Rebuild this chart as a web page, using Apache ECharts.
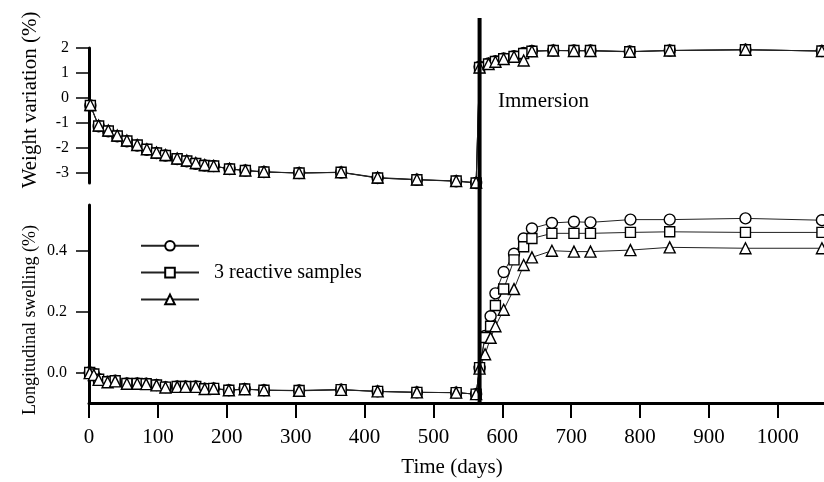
<!DOCTYPE html>
<html style="height: 100%">
  <head>
    <meta charset="utf-8" />
  </head>
  <body style="height: 100%; margin: 0">
    <div id="container" style="width: 824px; height: 482px"></div>

    <script
      type="text/javascript"
      src="https://cdn.jsdelivr.net/npm/echarts@6/dist/echarts.min.js"
    ></script>

    <script type="text/javascript">
      var dom = document.getElementById("container");
      var myChart = echarts.init(dom);

      var FONT = "Liberation Serif";

      var sampleNames = ["Sample 1", "Sample 2", "Sample 3"];
      var sampleSymbols = ["circle", "rect", "triangle"];
      var immersionDay = 567;

      // weight variation (%), top panel
      var weightDays = [
        2, 14, 28, 41, 55, 70, 84, 98, 111, 128, 142, 155, 168, 181, 204, 227,
        254, 305, 366, 419, 476, 533, 562, 567, 580, 590, 602, 617, 631, 643,
        674, 704, 728, 785, 843, 953, 1064,
      ];
      var weight1 = [
        -0.3, -1.13, -1.33, -1.53, -1.73, -1.9, -2.07, -2.2, -2.3, -2.44, -2.53,
        -2.63, -2.7, -2.72, -2.84, -2.9, -2.96, -3.0, -2.98, -3.2, -3.27, -3.33,
        -3.4, 1.25, 1.38, 1.47, 1.58, 1.67, 1.8, 1.88, 1.9, 1.9, 1.9, 1.86, 1.9,
        1.93, 1.88,
      ];
      var weight2 = [
        -0.3, -1.12, -1.32, -1.52, -1.72, -1.88, -2.05, -2.2, -2.3, -2.43, -2.52,
        -2.62, -2.7, -2.72, -2.84, -2.9, -2.96, -3.0, -2.97, -3.2, -3.27, -3.32,
        -3.4, 1.22, 1.36, 1.46, 1.57, 1.66, 1.78, 1.87, 1.9, 1.9, 1.9, 1.85, 1.9,
        1.93, 1.88,
      ];
      var weight3 = [
        -0.28, -1.1, -1.3, -1.5, -1.7, -1.88, -2.05, -2.18, -2.28, -2.42, -2.5,
        -2.6, -2.68, -2.72, -2.83, -2.9, -2.95, -3.0, -2.97, -3.18, -3.26, -3.32,
        -3.38, 1.22, 1.36, 1.45, 1.56, 1.65, 1.5, 1.87, 1.9, 1.88, 1.88, 1.85,
        1.9, 1.93, 1.88,
      ];

      // longitudinal swelling (%), bottom panel
      var swellDays = [
        1, 7, 14, 27, 38, 55, 70, 83, 98, 111, 128, 140, 155, 168, 181, 203, 226,
        254, 305, 366, 419, 476, 533, 562, 567, 575, 583, 590, 602, 617, 631,
        643, 672, 704, 728, 786, 843, 953, 1064,
      ];
      var swell1 = [
        0.0, -0.005, -0.022, -0.03, -0.027, -0.036, -0.036, -0.037, -0.041,
        -0.048, -0.046, -0.046, -0.046, -0.053, -0.052, -0.058, -0.054, -0.058,
        -0.059, -0.056, -0.062, -0.065, -0.066, -0.071, 0.015, 0.12, 0.185,
        0.26, 0.33, 0.39, 0.44, 0.473, 0.491, 0.495, 0.493, 0.502, 0.502, 0.506,
        0.5,
      ];
      var swell2 = [
        0.0, -0.005, -0.022, -0.03, -0.027, -0.036, -0.036, -0.037, -0.041,
        -0.048, -0.046, -0.046, -0.046, -0.053, -0.052, -0.058, -0.054, -0.058,
        -0.059, -0.056, -0.062, -0.065, -0.066, -0.071, 0.016, 0.115, 0.152,
        0.22, 0.274, 0.37, 0.413, 0.44, 0.457, 0.457, 0.457, 0.46, 0.462, 0.46,
        0.46,
      ];
      var swell3 = [
        -0.002, -0.008, -0.024, -0.032, -0.029, -0.037, -0.037, -0.038, -0.042,
        -0.049, -0.047, -0.047, -0.047, -0.054, -0.053, -0.058, -0.055, -0.058,
        -0.06, -0.057, -0.062, -0.065, -0.066, -0.071, 0.013, 0.06, 0.114,
        0.152, 0.206, 0.274, 0.353, 0.378, 0.4, 0.397, 0.397, 0.402, 0.411,
        0.408, 0.408,
      ];

      var xTicks = [0, 100, 200, 300, 400, 500, 600, 700, 800, 900, 1000];
      var weightTicks = [-3, -2, -1, 0, 1, 2];
      var swellTicks = [0, 0.2, 0.4];
      var swellMinorTicks = [0.1, 0.3, 0.5];

      function zip(xs, ys) {
        return xs.map(function (x, i) {
          return [x, ys[i]];
        });
      }

      function sampleSeries(name, symbol, days, vals, xi, yi) {
        return {
          name: name,
          type: "line",
          xAxisIndex: xi,
          yAxisIndex: yi,
          data: zip(days, vals),
          symbol: symbol,
          symbolSize: symbol === "rect" ? 10 : 11,
          showAllSymbol: true,
          lineStyle: { color: "#222", width: 1 },
          itemStyle: { color: "#fff", borderColor: "#000", borderWidth: 1.4 },
          emphasis: { disabled: true },
        };
      }

      var weightVals = [weight1, weight2, weight3];
      var swellVals = [swell1, swell2, swell3];
      var series = [];
      for (var i = 0; i < 3; i++) {
        series.push(
          sampleSeries(sampleNames[i], sampleSymbols[i], weightDays, weightVals[i], 0, 0)
        );
      }
      for (var j = 0; j < 3; j++) {
        series.push(
          sampleSeries(sampleNames[j], sampleSymbols[j], swellDays, swellVals[j], 1, 1)
        );
      }
      series.push({
        name: "immersion",
        type: "line",
        xAxisIndex: 2,
        yAxisIndex: 3,
        data: [
          [immersionDay, 0],
          [immersionDay, 1],
        ],
        symbol: "none",
        lineStyle: { color: "#000", width: 4 },
        z: 5,
      });

      var axisText = { color: "#000", fontFamily: FONT };

      var option = {
        animation: false,
        backgroundColor: "#fff",
        grid: [
          { left: 89, right: 0, top: 48, height: 135 },
          { left: 89, right: 0, top: 205, height: 198 },
          { left: 89, right: 0, top: 18, height: 385 },
        ],
        xAxis: [
          { gridIndex: 0, type: "value", min: 0, max: 1067, show: false },
          {
            gridIndex: 1,
            type: "value",
            min: 0,
            max: 1067,
            interval: 100,
            axisLine: { onZero: false, lineStyle: { color: "#000", width: 3 } },
            axisTick: {
              customValues: xTicks,
              length: 15,
              lineStyle: { color: "#000", width: 2 },
            },
            axisLabel: Object.assign(
              {
                customValues: xTicks,
                fontSize: 21,
                margin: 24,
                formatter: function (v) {
                  return String(v);
                },
              },
              axisText
            ),
            splitLine: { show: false },
          },
          { gridIndex: 2, type: "value", min: 0, max: 1067, show: false },
        ],
        yAxis: [
          {
            gridIndex: 0,
            type: "value",
            min: -3.4,
            max: 2,
            axisLine: { show: true, lineStyle: { color: "#000", width: 3 } },
            axisTick: {
              show: true,
              customValues: weightTicks,
              length: 13,
              lineStyle: { color: "#000", width: 1.5 },
            },
            axisLabel: Object.assign(
              { customValues: weightTicks, fontSize: 16, margin: 20 },
              axisText
            ),
            splitLine: { show: false },
          },
          {
            gridIndex: 1,
            type: "value",
            min: -0.1,
            max: 0.55,
            axisLine: { show: true, lineStyle: { color: "#000", width: 3 } },
            axisTick: {
              show: true,
              customValues: swellTicks,
              length: 13,
              lineStyle: { color: "#000", width: 1.5 },
            },
            axisLabel: Object.assign(
              {
                customValues: swellTicks,
                fontSize: 16,
                margin: 22,
                formatter: function (v) {
                  return v.toFixed(1);
                },
              },
              axisText
            ),
            splitLine: { show: false },
          },
          {
            gridIndex: 1,
            type: "value",
            min: -0.1,
            max: 0.55,
            axisLine: { show: false },
            axisTick: {
              show: true,
              customValues: swellMinorTicks,
              length: 7,
              lineStyle: { color: "#000", width: 1.5 },
            },
            axisLabel: { show: false },
            splitLine: { show: false },
          },
          { gridIndex: 2, type: "value", min: 0, max: 1, show: false },
        ],
        legend: {
          orient: "vertical",
          left: 135,
          top: 235,
          itemWidth: 58,
          itemHeight: 12,
          itemGap: 11,
          selectedMode: false,
          data: sampleNames,
          formatter: function (name) {
            return name === "Sample 2" ? "3 reactive samples" : "";
          },
          textStyle: {
            color: "#000",
            fontFamily: FONT,
            fontSize: 20,
            lineHeight: 12,
            padding: [0, 0, 0, 10],
          },
        },
        graphic: [
          {
            type: "text",
            x: 30,
            y: 100,
            rotation: Math.PI / 2,
            style: {
              text: "Weight variation (%)",
              fill: "#000",
              font: "21px " + FONT,
              textAlign: "center",
              textVerticalAlign: "middle",
            },
          },
          {
            type: "text",
            x: 30,
            y: 320,
            rotation: Math.PI / 2,
            style: {
              text: "Longitudinal swelling (%)",
              fill: "#000",
              font: "18px " + FONT,
              textAlign: "center",
              textVerticalAlign: "middle",
            },
          },
          {
            type: "text",
            x: 452,
            y: 467,
            style: {
              text: "Time (days)",
              fill: "#000",
              font: "21px " + FONT,
              textAlign: "center",
              textVerticalAlign: "middle",
            },
          },
          {
            type: "text",
            x: 498,
            y: 101,
            style: {
              text: "Immersion",
              fill: "#000",
              font: "21px " + FONT,
              textAlign: "left",
              textVerticalAlign: "middle",
            },
          },
        ],
        series: series,
      };

      if (option && typeof option === "object") {
        myChart.setOption(option);
      }
    </script>
  </body>
</html>
